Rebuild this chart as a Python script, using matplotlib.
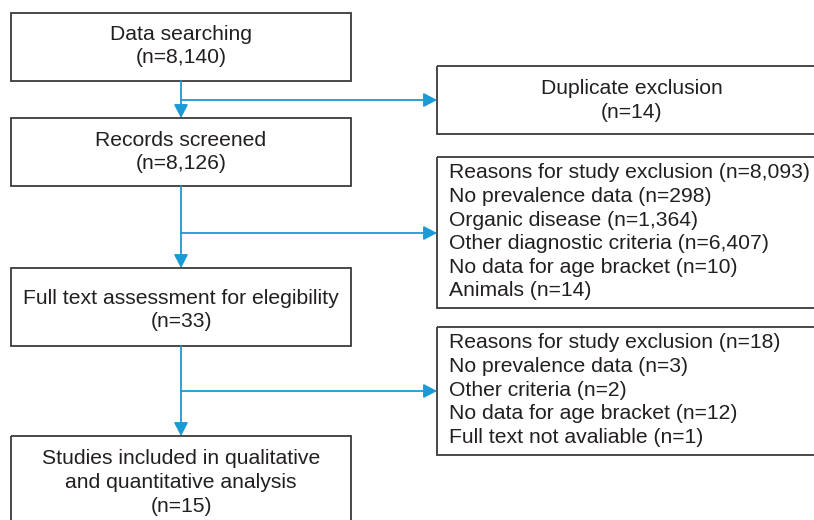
import matplotlib.pyplot as plt
from matplotlib.patches import Rectangle

# flow boxes (main column) and exclusion boxes (right column)
main_labels = [
    ["Data searching", "(n=8,140)"],
    ["Records screened", "(n=8,126)"],
    ["Full text assessment for elegibility", "(n=33)"],
    ["Studies included in qualitative", "and quantitative analysis", "(n=15)"],
]
side_labels = [
    ["Duplicate exclusion", "(n=14)"],
    ["Reasons for study exclusion (n=8,093)",
     "No prevalence data (n=298)",
     "Organic disease (n=1,364)",
     "Other diagnostic criteria (n=6,407)",
     "No data for age bracket (n=10)",
     "Animals (n=14)"],
    ["Reasons for study exclusion (n=18)",
     "No prevalence data (n=3)",
     "Other criteria (n=2)",
     "No data for age bracket (n=12)",
     "Full text not avaliable (n=1)"],
]

BLUE = "#1a9ad6"
INK = "#231f20"
EDGE = "#3a3a3a"
FS = 15.2
LINE = 23.6

# layout in pixel coords (y down)
main_x0, main_x1 = 11, 351
main_boxes = [(13, 81), (118, 186), (268, 346), (436, 522)]
main_text_y = [34, 140, 298, 459]
side_x0, side_x1 = 437, 826
side_boxes = [(66, 134), (157, 308), (327, 455)]
side_text_y = [89, 173, 343]
branch_y = [100, 233, 391]
stem_x = 181

fig = plt.figure(figsize=(8.14, 5.2), dpi=100, facecolor="white")
ax = fig.add_axes([0, 0, 1, 1])
ax.set_xlim(0, 814)
ax.set_ylim(520, 0)
ax.axis("off")

for (y0, y1), lines, ty in zip(main_boxes, main_labels, main_text_y):
    ax.add_patch(Rectangle((main_x0, y0), main_x1 - main_x0, y1 - y0,
                           fill=False, ec=EDGE, lw=1.3))
    for i, t in enumerate(lines):
        ax.text((main_x0 + main_x1) / 2, ty + i * LINE, t, ha="center",
                va="center", fontsize=FS, color=INK, family="Liberation Sans")

for k, ((y0, y1), lines, ty) in enumerate(zip(side_boxes, side_labels, side_text_y)):
    ax.add_patch(Rectangle((side_x0, y0), side_x1 - side_x0, y1 - y0,
                           fill=False, ec=EDGE, lw=1.3))
    for i, t in enumerate(lines):
        if k == 0:
            ax.text((side_x0 + side_x1) / 2, ty + i * LINE, t, ha="center",
                    va="center", fontsize=FS, color=INK, family="Liberation Sans")
        else:
            ax.text(449, ty + i * LINE, t, ha="left", va="center",
                    fontsize=FS, color=INK, family="Liberation Sans")

arrow = dict(arrowstyle="-|>,head_length=0.8,head_width=0.42", color=BLUE,
             lw=1.3, shrinkA=0, shrinkB=0)
for i in range(3):
    ax.annotate("", xy=(stem_x, main_boxes[i + 1][0]), xytext=(stem_x, main_boxes[i][1]),
                arrowprops=arrow)
    ax.annotate("", xy=(side_x0, branch_y[i]), xytext=(stem_x, branch_y[i]),
                arrowprops=arrow)

fig.savefig("out.png", dpi=100, facecolor="white")
